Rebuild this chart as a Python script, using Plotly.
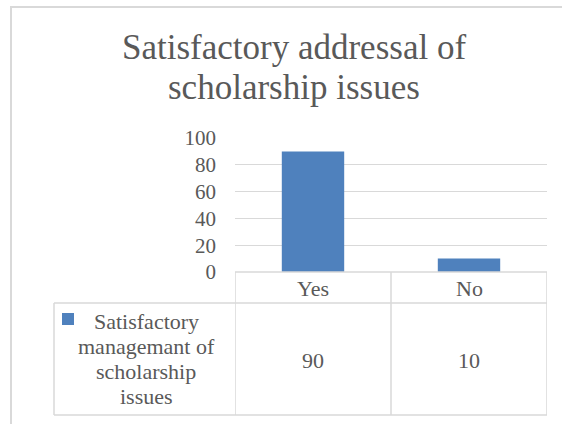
import plotly.graph_objects as go

# data
categories = ["Yes", "No"]
values = [90, 10]
series_lines = ["Satisfactory", "managemant of", "scholarship", "issues"]
title_lines = ["Satisfactory addressal of", "scholarship issues"]
y_ticks = [0, 20, 40, 60, 80, 100]

W, H = 562, 424
FONT = "Liberation Serif, Times New Roman, serif"
TXT = "#595959"
GRID = "#d9d9d9"
BLUE = "#4F81BD"


def px(x):
    return x / W


def py(y):
    return 1 - y / H


fig = go.Figure()

fig.add_trace(
    go.Bar(
        x=categories,
        y=values,
        marker=dict(color=BLUE, line=dict(width=0)),
        name="Satisfactory managemant of scholarship issues",
        showlegend=False,
        hoverinfo="skip",
    )
)

shapes = []
line_style = dict(color=GRID, width=1.5)

# outer chart border (cropped at right and bottom)
shapes.append(dict(type="rect", xref="paper", yref="paper",
                   x0=px(11), x1=px(575), y0=py(7), y1=py(440),
                   line=dict(color=GRID, width=2), layer="below"))

# data table grid
shapes.append(dict(type="line", xref="x", yref="paper", x0=-0.5, x1=1.5,
                   y0=py(272), y1=py(272), line=line_style))
for yy in [303, 415]:
    shapes.append(dict(type="line", xref="paper", yref="paper", x0=px(54), x1=px(547),
                       y0=py(yy), y1=py(yy), line=line_style))
for xx in [-0.5, 0.5, 1.5]:
    shapes.append(dict(type="line", xref="x", yref="paper", x0=xx, x1=xx,
                       y0=py(272), y1=py(415), line=line_style))
shapes.append(dict(type="line", xref="paper", yref="paper", x0=px(54), x1=px(54),
                   y0=py(303), y1=py(415), line=line_style))

# legend key square
shapes.append(dict(type="rect", xref="paper", yref="paper",
                   x0=px(62), x1=px(74), y0=py(313), y1=py(325),
                   fillcolor=BLUE, line=dict(width=0)))

annotations = []
# title
for i, t in enumerate(title_lines):
    annotations.append(dict(text=t, xref="paper", yref="paper", x=px(294), y=py(48 + 39 * i),
                            xanchor="center", yanchor="middle", showarrow=False,
                            font=dict(family=FONT, size=35, color=TXT)))
# header row (category names) and values row
for c, v in zip(categories, values):
    annotations.append(dict(text=c, xref="x", yref="paper", x=c, y=py(288),
                            xanchor="center", yanchor="middle", showarrow=False,
                            font=dict(family=FONT, size=22, color=TXT)))
    annotations.append(dict(text=str(v), xref="x", yref="paper", x=c, y=py(360),
                            xanchor="center", yanchor="middle", showarrow=False,
                            font=dict(family=FONT, size=22, color=TXT)))
# series label in the table, one line per annotation for tighter spacing
for i, t in enumerate(series_lines):
    annotations.append(dict(text=t, xref="paper", yref="paper", x=px(146), y=py(321 + 25 * i),
                            xanchor="center", yanchor="middle", showarrow=False,
                            font=dict(family=FONT, size=22, color=TXT)))

fig.update_layout(
    width=W,
    height=H,
    margin=dict(l=0, r=0, t=0, b=0, autoexpand=False),
    paper_bgcolor="white",
    plot_bgcolor="white",
    bargap=0.6,
    showlegend=False,
    xaxis=dict(
        domain=[px(235), px(547)],
        range=[-0.5, 1.5],
        showticklabels=False,
        showgrid=False,
        zeroline=False,
        showline=False,
        ticks="",
        automargin=False,
    ),
    yaxis=dict(
        domain=[py(272), py(138)],
        range=[0, 100],
        tickvals=y_ticks,
        showgrid=True,
        gridcolor=GRID,
        gridwidth=1,
        zeroline=False,
        showline=False,
        ticks="",
        ticklabelstandoff=18,
        automargin=False,
        tickfont=dict(family=FONT, size=21, color=TXT),
    ),
    shapes=shapes,
    annotations=annotations,
)

# drop the default page margin so the figure sits at the window origin
fig.write_html(
    "out.html",
    config={"displayModeBar": False},
    post_script="document.body.style.margin='0';",
)
